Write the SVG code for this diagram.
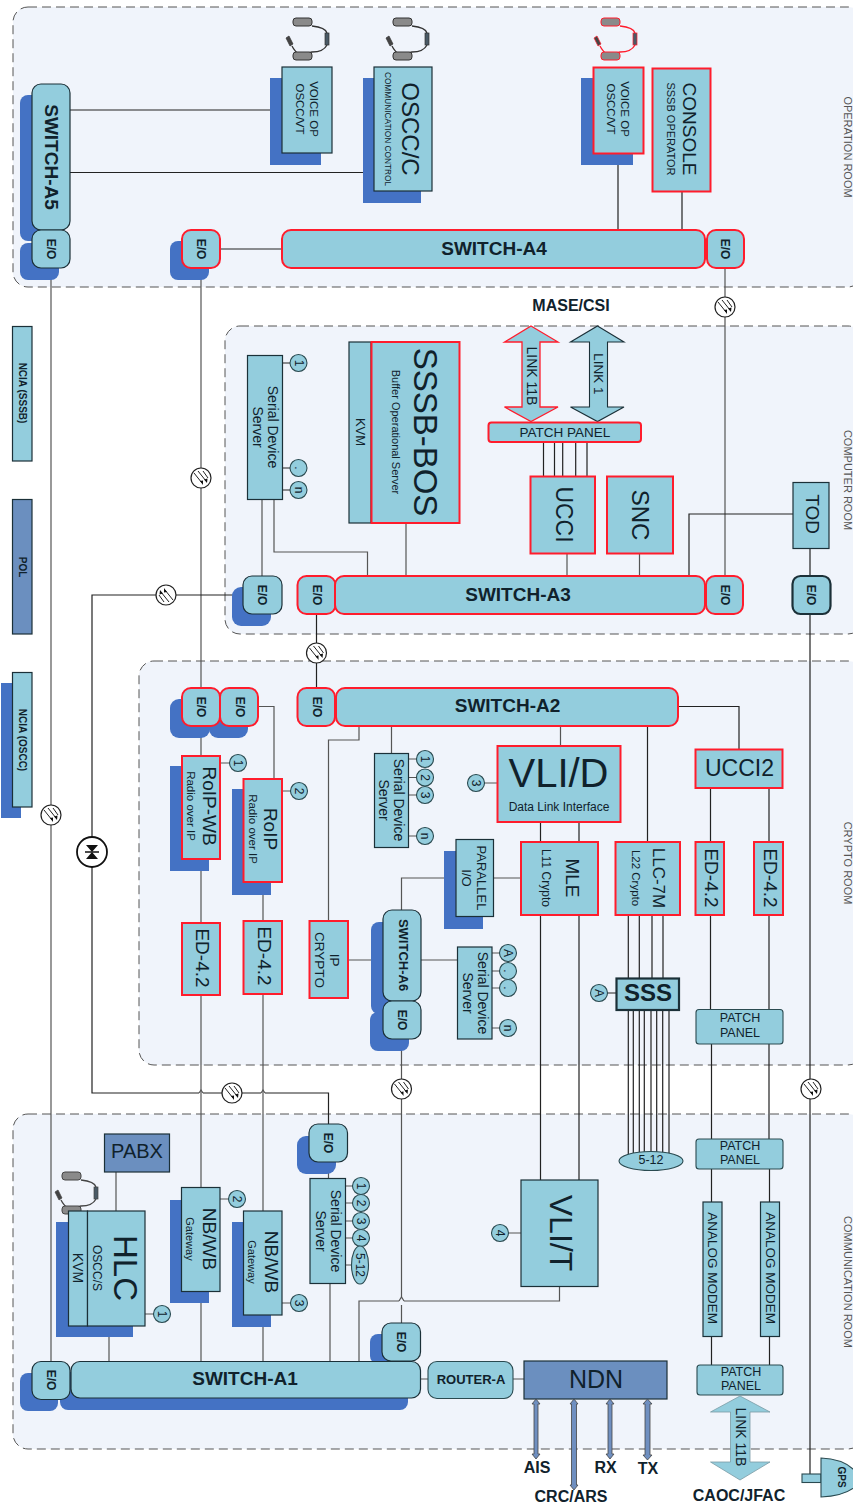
<svg xmlns="http://www.w3.org/2000/svg" xmlns:xlink="http://www.w3.org/1999/xlink" width="853" height="1504" viewBox="0 0 853 1504">
<style>
text{font-family:"Liberation Sans",Arial,sans-serif;fill:#10222c;text-anchor:middle;dominant-baseline:central}
.room{fill:#f0f4fb;stroke:#555;stroke-width:1;stroke-dasharray:9 5}
.roomlabel{font-size:11px;fill:#555}
.n{fill:#93cddd;stroke:#1b3038;stroke-width:1.2}
.r{fill:#93cddd;stroke:#ff1c2c;stroke-width:2}
.d{fill:#6b8fbf;stroke:#1b3038;stroke-width:1.2}
.t{fill:#93cddd;stroke:#1b3038;stroke-width:2.2}
.s{fill:#4472c4}
.c{fill:#93cddd;stroke:#2a4a50;stroke-width:1.1}
.b{font-weight:bold}
.i{font-size:12px}
.sw{font-size:19px;font-weight:bold}
.eo{font-size:12px;font-weight:bold}
.sd{font-size:14px}
.ex{font-size:16px;font-weight:bold}
.l{fill:none;stroke:#222;stroke-width:1.2}
.g{fill:none;stroke:#555;stroke-width:1.2}
.f{fill:#6f8fc0;stroke:#444;stroke-width:.8}
</style>
<defs>
<g id="fiber">
<circle r="10" fill="#fff" stroke="#222" stroke-width="1.2"/>
<path d="M-7-5L1 5M-3-7L5 3M2-7L7 0" fill="none" stroke="#222" stroke-width="1"/>
<path d="M2 7L-1 3L2 2.5ZM6 5L3 1.5L6.500 0.500Z" fill="#111"/>
</g>
<g id="fiberb">
<circle r="10" fill="#fff" stroke="#222" stroke-width="1.2"/>
<path d="M7 5L-1-5M3 7L-5-3M-2 7L-7 0" fill="none" stroke="#222" stroke-width="1"/>
<path d="M-2-7L1-3L-2-2.500ZM-6-5L-3-1.500L-6.500-0.500Z" fill="#111"/>
</g>
<g id="hs">
<path d="M27 8C36 9 41 11 42 15M42 27C40 31 35 34 27 34L15 37Q10 34 7 28" fill="none" stroke="currentColor" stroke-width="1.300"/>
<rect x="8" y="0" width="19" height="8" rx="3" fill="#8a8a8a" stroke="currentColor"/>
<rect x="8" y="34" width="19" height="8" rx="3" fill="#8a8a8a" stroke="currentColor"/>
<rect x="40" y="15" width="4" height="12" fill="#4a5a66" stroke="currentColor" stroke-width=".7"/>
<path d="M1 20L4 18L8 26L5 28Z" fill="#444" stroke="currentColor" stroke-width=".7"/>
</g>
</defs>
<rect width="853" height="1504" fill="#fff"/>

<g id="rooms">
<rect class="room" x="13" y="7" width="850" height="280" rx="15"/>
<rect class="room" x="225" y="326" width="638" height="308" rx="15"/>
<rect class="room" x="139" y="661" width="724" height="404" rx="15"/>
<rect class="room" x="13" y="1114" width="850" height="335" rx="15"/>
<text class="roomlabel" transform="translate(848 147) rotate(90)">OPERATION ROOM</text>
<text class="roomlabel" transform="translate(848 480) rotate(90)">COMPUTER ROOM</text>
<text class="roomlabel" transform="translate(848 863) rotate(90)">CRYPTO ROOM</text>
<text class="roomlabel" transform="translate(848 1282) rotate(90)">COMMUNICATION ROOM</text>
</g>

<g id="connectors">
<path class="l" d="M70 110H282M70 172.500H374M220 249H282M618 153V230M682 191V230"/>
<path class="g" d="M51 268V1362M201 268V688M725 268V576"/>
<path class="l" d="M243 595H92V1093H199M203 1093H261M265 1093H328.500V1124"/>
<path class="g" d="M199 1093q2-3 2-3q2 3 2 3M261 1093q2-3 2-3q2 3 2 3" stroke-width="1"/>
<path class="g" d="M262 499V576M274 499V552H367.500V576M406 523V576M567 553V576M639.500 553V576"/>
<path class="l" d="M793 514H689V576M543.500 442V476M554.500 442V476M562.700 442V476M575.700 442V476M587 442V476M810 548V576M810 614V1474"/>
<path class="l" d="M283 363H290M283 468H290M283 490H290"/>
<path class="l" d="M316.500 614V688"/>
<path class="g" d="M201 726V756M201 859V923M201 995V1188M263 895V921M263 994V1211M258 706.500H274V779M220 763H230M282 791H291"/>
<path class="g" d="M359 726V740H328.500V921M391.500 726V753M408 759H417M408 777.500H417M408 795H417M408 836H417"/>
<path class="g" d="M560.500 726V746M484 783H497M348 960H372M421 960H457M492 953H500M492 971H500M492 988H500M492 1028H500M444 878H401.500V910M493 878H521"/>
<path class="g" d="M401.500 1039V1297M401.500 1305V1323"/>
<path class="l" d="M540.500 822V842M579 822V842M540.500 915V1180M579 915V1180M647.500 726V842M678 706.500H739V749M607 993H616"/>
<path class="l" d="M628.300 915V978M639.300 915V978M652 915V978M663 915V978M628.300 1010V1155M633.300 1010V1153M639.300 1010V1152M644.300 1010V1152M651 1010V1152M656.700 1010V1152M662.700 1010V1153M669 1010V1155"/>
<path class="l" d="M710.500 788V842M769 788V842M710.500 915V1010M769 915V1010M711.500 1044V1139M769 1044V1139M711.500 1169V1202M769.500 1169V1202M711.500 1336V1365M769.500 1336V1365"/>
<path class="g" d="M116 1172V1211M145 1314H154M109 1326V1362M201 1292V1362M220 1199H229M263 1315V1362M282 1303H291M328.500 1162V1178M330 1283V1362M346 1186H353M346 1203H353M346 1221H353M346 1238H353M346 1265H352M359 1362V1301H399M404 1301H559.500V1287M508 1233H521"/>
<path class="g" d="M399 1301q2.500-4 2.500-4q2.500 4 2.500 4" stroke-width="1"/>
<path class="g" d="M420 1379H428M513 1379H524"/>
</g>

<g id="fibers">
<use xlink:href="#fiber" x="725" y="307"/>
<use xlink:href="#fiber" x="201" y="478"/>
<use xlink:href="#fiberb" x="166" y="595"/>
<use xlink:href="#fiber" x="316.500" y="653"/>
<use xlink:href="#fiber" x="51" y="815"/>
<use xlink:href="#fiber" x="232" y="1093"/>
<use xlink:href="#fiber" x="401.500" y="1089"/>
<use xlink:href="#fiber" x="811" y="1089"/>
</g>
<g id="diode">
<circle cx="92" cy="852" r="15" fill="#fff" stroke="#111" stroke-width="1.800"/>
<path d="M86 845H98L92 852L98 859H86L92 852Z" fill="#111"/>
<path d="M85 852H99" stroke="#111" stroke-width="1.500"/>
</g>

<g id="switch-a5"><rect class="s" x="20" y="95" width="40" height="146" rx="8"/><rect class="n" x="32" y="84" width="38" height="146" rx="9"/><text class="sw" transform="translate(51 157) rotate(90)">SWITCH-A5</text></g>
<g id="eo-a5"><rect class="s" x="20" y="243" width="39" height="37" rx="8"/><rect class="n" x="32" y="230" width="38" height="38" rx="9"/><text class="eo" transform="translate(51 249) rotate(90)">E/O</text></g>
<g id="voice-op-1"><use xlink:href="#hs" x="285" y="18" color="#333"/><rect class="s" x="270" y="78" width="51" height="87"/><rect class="n" x="282" y="67" width="50" height="86"/><text font-size="11.500" transform="translate(307 109) rotate(90)"><tspan x="0" dy="-7">VOICE OP</tspan><tspan x="0" dy="14">OSCC/VT</tspan></text></g>
<g id="oscc-c"><use xlink:href="#hs" x="385" y="18" color="#333"/><rect class="s" x="363" y="78" width="58" height="125"/><rect class="n" x="374" y="67" width="58" height="124"/><text font-size="24" transform="translate(410 129) rotate(90)">OSCC/C</text><text font-size="8.300" transform="translate(388 129) rotate(90)">COMMUNICATION CONTROL</text></g>
<g id="eo-a4l"><rect class="s" x="170" y="241" width="39" height="39" rx="8"/><rect class="r" x="182" y="230" width="38" height="38" rx="9"/><text class="eo" transform="translate(201 249) rotate(90)">E/O</text></g>
<g id="switch-a4"><rect class="r" x="282" y="230" width="423" height="38" rx="9"/><text class="sw" x="494" y="248">SWITCH-A4</text></g>
<g id="eo-a4r"><rect class="r" x="707" y="230" width="37" height="38" rx="9"/><text class="eo" transform="translate(725 249) rotate(90)">E/O</text></g>
<g id="voice-op-2"><use xlink:href="#hs" x="593" y="18" color="#ff1c2c"/><rect class="s" x="581" y="78" width="52" height="87"/><rect class="r" x="593.500" y="67.500" width="50" height="86"/><text font-size="11.500" transform="translate(618 109) rotate(90)"><tspan x="0" dy="-7">VOICE OP</tspan><tspan x="0" dy="14">OSCC/VT</tspan></text></g>
<g id="console"><rect class="r" x="652.500" y="68.500" width="58" height="123"/><text font-size="19" transform="translate(689.500 129) rotate(90)">CONSOLE</text><text font-size="11" transform="translate(671 129) rotate(90)">SSSB OPERATOR</text></g>
<text class="ex" x="571" y="305">MASE/CSI</text>

<g id="ncia-sssb"><rect class="n" x="12.500" y="326.500" width="19.500" height="134.500"/><text class="b" font-size="10" transform="translate(22 393) rotate(90)">NCIA (SSSB)</text></g>
<g id="pol"><rect class="d" x="12.500" y="499.500" width="19.500" height="134.500"/><text class="b" font-size="10" transform="translate(22 567) rotate(90)">POL</text></g>
<g id="ncia-oscc"><rect class="s" x="1" y="683" width="20" height="135"/><rect class="n" x="12.500" y="672.500" width="19.500" height="134.500"/><text class="b" font-size="10" transform="translate(22 740) rotate(90)">NCIA (OSCC)</text></g>

<g id="serial-a3"><rect class="n" x="247.500" y="355.500" width="35" height="144"/><text class="sd" transform="translate(265 427) rotate(90)"><tspan x="0" dy="-8">Serial Device</tspan><tspan x="0" dy="15">Server</tspan></text><circle class="c" cx="298.500" cy="363" r="8.500"/><text class="i" transform="translate(298.500 363) rotate(90)">1</text><circle class="c" cx="298.500" cy="468" r="8.500"/><text class="i" transform="translate(298.500 468) rotate(90)">.</text><circle class="c" cx="298.500" cy="490" r="8.500"/><text class="i" transform="translate(298.500 490) rotate(90)">n</text></g>
<g id="eo-a3k"><rect class="s" x="232" y="587" width="39" height="39" rx="9"/><rect class="n" x="243" y="576" width="39" height="38" rx="9"/><text class="eo" transform="translate(262 595) rotate(90)">E/O</text></g>
<g id="kvm-a3"><rect class="n" x="349" y="342" width="22" height="181"/><text font-size="13" transform="translate(360 432) rotate(90)">KVM</text></g>
<g id="sssb-bos"><rect class="r" x="371.500" y="342" width="88" height="181"/><text font-size="33" transform="translate(425 432) rotate(90)">SSSB-BOS</text><text font-size="11" transform="translate(396 432) rotate(90)">Buffer Operational Server</text></g>
<g id="link11b-top"><path d="M531 326L558 342H540V407H558L531 421.500L504.500 407H522V342H504.500Z" fill="#93cddd" stroke="#ff1c2c" stroke-width="1.300"/><text font-size="14" transform="translate(532 376) rotate(90)">LINK 11B</text></g>
<g id="link1"><path d="M597.500 326L624 342H607.500V407H624L597.500 421.500L570.500 407H589.500V342H570.500Z" fill="#93cddd" stroke="#1b3038" stroke-width="1.100"/><text font-size="13.500" transform="translate(598 374) rotate(90)">LINK 1</text></g>
<g id="patch-top"><rect class="r" x="488.500" y="422.500" width="152.500" height="19.500" rx="3"/><text font-size="13.500" x="565" y="432">PATCH PANEL</text></g>
<g id="ucci"><rect class="r" x="530.500" y="476.500" width="64.500" height="77"/><text font-size="23" transform="translate(564 514.500) rotate(90)">UCCI</text></g>
<g id="snc"><rect class="r" x="607" y="476.500" width="66" height="77"/><text font-size="24" transform="translate(640 515) rotate(90)">SNC</text></g>
<g id="tod"><rect class="n" x="793" y="482.500" width="36" height="66"/><text font-size="19" transform="translate(812 514) rotate(90)">TOD</text></g>
<g id="eo-a3"><rect class="r" x="297.500" y="576" width="38" height="38" rx="9"/><text class="eo" transform="translate(317 595) rotate(90)">E/O</text></g>
<g id="switch-a3"><rect class="r" x="335" y="576" width="370" height="38" rx="9"/><text class="sw" x="518" y="594">SWITCH-A3</text></g>
<g id="eo-a3r"><rect class="r" x="706" y="576" width="37" height="38" rx="9"/><text class="eo" transform="translate(725 595) rotate(90)">E/O</text></g>
<g id="eo-tod"><rect class="t" x="792.500" y="576" width="38" height="38" rx="8"/><text class="eo" transform="translate(811 595) rotate(90)">E/O</text></g>

<g id="eo-a2a"><rect class="s" x="170" y="699" width="40" height="39" rx="9"/><rect class="s" x="209" y="699" width="39" height="39" rx="9"/><rect class="r" x="182" y="688" width="38" height="38" rx="9"/><text class="eo" transform="translate(201 707) rotate(90)">E/O</text></g>
<g id="eo-a2b"><rect class="r" x="220" y="688" width="38" height="38" rx="9"/><text class="eo" transform="translate(240 707) rotate(90)">E/O</text></g>
<g id="eo-a2"><rect class="r" x="297.500" y="688" width="37.500" height="38" rx="9"/><text class="eo" transform="translate(317 707) rotate(90)">E/O</text></g>
<g id="switch-a2"><rect class="r" x="336" y="688" width="342" height="38" rx="9"/><text class="sw" x="507.500" y="705">SWITCH-A2</text></g>
<g id="roip-wb"><rect class="s" x="170" y="766" width="39" height="105"/><rect class="r" x="182" y="756" width="38" height="103"/><text font-size="19" transform="translate(209 806) rotate(90)">RoIP-WB</text><text font-size="11.500" transform="translate(191 806) rotate(90)">Radio over IP</text><circle class="c" cx="238" cy="763" r="8.500"/><text class="i" transform="translate(238 763) rotate(90)">1</text></g>
<g id="roip"><rect class="s" x="232" y="789" width="39" height="106"/><rect class="r" x="243.500" y="779" width="38.500" height="103"/><text font-size="19" transform="translate(270 829) rotate(90)">RoIP</text><text font-size="11.500" transform="translate(252.500 829) rotate(90)">Radio over IP</text><circle class="c" cx="299" cy="791" r="8.500"/><text class="i" transform="translate(299 791) rotate(90)">2</text></g>
<g id="ed42-a"><rect class="r" x="182" y="923" width="38" height="72"/><text font-size="19" transform="translate(202 958) rotate(90)">ED-4.2</text></g>
<g id="ed42-b"><rect class="r" x="243.500" y="921" width="38.500" height="73"/><text font-size="19" transform="translate(264 956) rotate(90)">ED-4.2</text></g>
<g id="ip-crypto"><rect class="r" x="309.500" y="921" width="38.500" height="77"/><text font-size="13.500" transform="translate(328 960) rotate(90)"><tspan x="0" dy="-7">IP</tspan><tspan x="0" dy="15">CRYPTO</tspan></text></g>
<g id="serial-a2"><rect class="n" x="374.500" y="753.500" width="34" height="94"/><text class="sd" transform="translate(391 800) rotate(90)"><tspan x="0" dy="-8">Serial Device</tspan><tspan x="0" dy="15">Server</tspan></text><circle class="c" cx="425" cy="759" r="8.500"/><text class="i" transform="translate(425 759) rotate(90)">1</text><circle class="c" cx="425" cy="777.500" r="8.500"/><text class="i" transform="translate(425 777.500) rotate(90)">2</text><circle class="c" cx="425" cy="795" r="8.500"/><text class="i" transform="translate(425 795) rotate(90)">3</text><circle class="c" cx="425" cy="836" r="8.500"/><text class="i" transform="translate(425 836) rotate(90)">n</text></g>
<g id="vli-d"><rect class="r" x="497.500" y="746" width="123" height="76"/><text font-size="40" x="558.500" y="773">VLI/D</text><text font-size="12" x="559" y="807">Data Link Interface</text><circle class="c" cx="476" cy="783" r="8.500"/><text class="i" transform="translate(476 783) rotate(90)">3</text></g>
<g id="parallel-io"><rect class="s" x="444" y="851" width="39" height="78"/><rect class="n" x="456" y="839.500" width="37.500" height="77"/><text font-size="13" transform="translate(475 878) rotate(90)"><tspan x="0" dy="-7">PARALLEL</tspan><tspan x="0" dy="15">I/O</tspan></text></g>
<g id="switch-a6"><rect class="s" x="371" y="922" width="30" height="92" rx="8"/><rect class="n" x="383" y="910" width="38" height="91" rx="9"/><text class="b" font-size="13" transform="translate(403 955) rotate(90)">SWITCH-A6</text></g>
<g id="eo-a6"><rect class="s" x="370" y="1012" width="39" height="39" rx="8"/><rect class="n" x="383" y="1001" width="38" height="38" rx="9"/><text class="eo" transform="translate(402 1020) rotate(90)">E/O</text></g>
<g id="serial-a6"><rect class="n" x="457.500" y="947" width="34.500" height="92"/><text class="sd" transform="translate(475 993) rotate(90)"><tspan x="0" dy="-8">Serial Device</tspan><tspan x="0" dy="15">Server</tspan></text><circle class="c" cx="508" cy="953" r="8.500"/><text class="i" transform="translate(508 953) rotate(90)">A</text><circle class="c" cx="508" cy="971" r="8.500"/><text class="i" transform="translate(508 971) rotate(90)">.</text><circle class="c" cx="508" cy="988" r="8.500"/><text class="i" transform="translate(508 988) rotate(90)">.</text><circle class="c" cx="508" cy="1028" r="8.500"/><text class="i" transform="translate(508 1028) rotate(90)">n</text></g>
<g id="mle"><rect class="r" x="521" y="842" width="77" height="73"/><text font-size="19" transform="translate(572 878) rotate(90)">MLE</text><text font-size="12" transform="translate(546 878) rotate(90)">L11 Crypto</text></g>
<g id="llc-7m"><rect class="r" x="615.500" y="842" width="64.500" height="73"/><text font-size="17" transform="translate(658 878) rotate(90)">LLC-7M</text><text font-size="11.500" transform="translate(636 878) rotate(90)">L22 Crypto</text></g>
<g id="ucci2"><rect class="r" x="695.500" y="749.500" width="87" height="38.500"/><text font-size="23" x="739.500" y="767.500">UCCI2</text></g>
<g id="ed42-c"><rect class="r" x="695.500" y="842" width="28.500" height="73"/><text font-size="19" transform="translate(711 878) rotate(90)">ED-4.2</text></g>
<g id="ed42-d"><rect class="r" x="754" y="842" width="29" height="73"/><text font-size="19" transform="translate(770 878) rotate(90)">ED-4.2</text></g>
<g id="sss"><rect class="t" x="616.500" y="978.500" width="62.500" height="31.500"/><text class="b" font-size="24" x="648" y="992">SSS</text><circle class="c" cx="599" cy="993" r="8.500"/><text class="i" transform="translate(599 993) rotate(90)">A</text></g>
<g id="patch-1"><rect class="c" x="696" y="1009.500" width="87" height="34.500" rx="3"/><text font-size="12.500" x="740" y="1018">PATCH</text><text font-size="12.500" x="740" y="1033">PANEL</text></g>

<g id="ellipse-5-12"><ellipse class="c" cx="651" cy="1161" rx="32" ry="9.500"/><text font-size="12.500" x="651" y="1160">5-12</text></g>
<g id="patch-2"><rect class="c" x="696" y="1139" width="87" height="30" rx="3"/><text font-size="12.500" x="740" y="1146">PATCH</text><text font-size="12.500" x="740" y="1160">PANEL</text></g>
<g id="modem-a"><rect class="n" x="703" y="1202" width="19" height="134.500"/><text font-size="13.500" transform="translate(712.500 1268) rotate(90)">ANALOG MODEM</text></g>
<g id="modem-b"><rect class="n" x="760.500" y="1202" width="19" height="134.500"/><text font-size="13.500" transform="translate(770 1268) rotate(90)">ANALOG MODEM</text></g>
<g id="patch-3"><rect class="c" x="697" y="1365" width="86" height="30" rx="3"/><text font-size="12.500" x="741" y="1372">PATCH</text><text font-size="12.500" x="741" y="1386">PANEL</text></g>
<g id="link11b-bottom"><path d="M740 1396L770 1412H750V1462H770L740 1480L710.500 1462H730.500V1412H710.500Z" fill="#93cddd" stroke="#7a9aa5" stroke-width=".8"/><text font-size="14" transform="translate(741 1437) rotate(90)">LINK 11B</text></g>
<text class="ex" font-size="16.500" x="739" y="1495">CAOC/JFAC</text>
<g id="gps"><rect class="c" x="802" y="1474" width="19" height="8.500"/><path class="c" d="M821 1458Q845 1459 856 1472V1486Q845 1496 821 1497Z"/><text class="b" font-size="10" transform="translate(841 1477) rotate(90)">GPS</text></g>

<g id="pabx"><rect class="d" x="104.500" y="1134" width="65" height="38"/><text font-size="20" x="137" y="1151">PABX</text></g>
<g id="hlc"><rect class="s" x="56" y="1222" width="77" height="115"/><use xlink:href="#hs" x="54" y="1172" color="#444"/><rect class="n" x="68.500" y="1211" width="19" height="115"/><rect class="n" x="87.500" y="1211" width="57.500" height="115"/><text font-size="14" transform="translate(78 1268) rotate(90)">KVM</text><text font-size="33" transform="translate(125 1268) rotate(90)">HLC</text><text font-size="12" transform="translate(97 1268) rotate(90)">OSCC/S</text><circle class="c" cx="162" cy="1314" r="8.500"/><text class="i" transform="translate(162 1314) rotate(90)">1</text></g>
<g id="nbwb-1"><rect class="s" x="170" y="1200" width="39" height="103"/><rect class="n" x="181.500" y="1187.500" width="38.500" height="104"/><text font-size="19" transform="translate(209 1239) rotate(90)">NB/WB</text><text font-size="11" transform="translate(190 1239) rotate(90)">Gateway</text><circle class="c" cx="237" cy="1199" r="8.500"/><text class="i" transform="translate(237 1199) rotate(90)">2</text></g>
<g id="nbwb-2"><rect class="s" x="232" y="1222" width="39" height="105"/><rect class="n" x="243.500" y="1211" width="38.500" height="104"/><text font-size="19" transform="translate(271 1262) rotate(90)">NB/WB</text><text font-size="11" transform="translate(252 1262) rotate(90)">Gateway</text><circle class="c" cx="299" cy="1303" r="8.500"/><text class="i" transform="translate(299 1303) rotate(90)">3</text></g>
<g id="eo-a1t"><rect class="s" x="297" y="1136" width="39" height="38" rx="9"/><rect class="n" x="309" y="1124" width="38.500" height="38" rx="9"/><text class="eo" transform="translate(328 1143) rotate(90)">E/O</text></g>
<g id="serial-a1"><rect class="n" x="310" y="1178.500" width="35.500" height="105"/><text class="sd" transform="translate(328 1231) rotate(90)"><tspan x="0" dy="-8">Serial Device</tspan><tspan x="0" dy="15">Server</tspan></text><circle class="c" cx="361" cy="1186" r="8.500"/><text class="i" transform="translate(361 1186) rotate(90)">1</text><circle class="c" cx="361" cy="1203" r="8.500"/><text class="i" transform="translate(361 1203) rotate(90)">2</text><circle class="c" cx="361" cy="1221" r="8.500"/><text class="i" transform="translate(361 1221) rotate(90)">3</text><circle class="c" cx="361" cy="1238" r="8.500"/><text class="i" transform="translate(361 1238) rotate(90)">4</text><ellipse class="c" cx="360" cy="1265" rx="8.500" ry="19"/><text class="i" transform="translate(360 1265) rotate(90)">5-12</text></g>
<g id="vli-t"><rect class="n" x="521" y="1180" width="77" height="106.500"/><text font-size="32" transform="translate(561 1233) rotate(90)">VLI/T</text><circle class="c" cx="500" cy="1233" r="8.500"/><text class="i" transform="translate(500 1233) rotate(90)">4</text></g>
<g id="eo-a1r"><rect class="s" x="370" y="1334" width="39" height="30" rx="8"/><rect class="n" x="382" y="1323" width="38.500" height="38" rx="9"/><text class="eo" transform="translate(401 1342) rotate(90)">E/O</text></g>
<g id="switch-a1"><rect class="s" x="60" y="1372" width="348" height="38" rx="8"/><rect class="n" x="71" y="1361.500" width="349.500" height="36.500" rx="9"/><text class="sw" x="245" y="1378">SWITCH-A1</text></g>
<g id="eo-a1"><rect class="s" x="20" y="1373" width="38" height="38" rx="8"/><rect class="n" x="32" y="1361.500" width="38" height="38" rx="9"/><text class="eo" transform="translate(51 1380) rotate(90)">E/O</text></g>
<g id="router-a"><rect class="c" x="428" y="1361.500" width="85" height="37" rx="9"/><text class="b" font-size="13" x="471" y="1379">ROUTER-A</text></g>
<g id="ndn"><rect class="d" x="524" y="1361" width="143" height="38"/><text font-size="25" x="596" y="1379">NDN</text></g>
<g id="io-arrows">
<path class="f" d="M536 1399L540 1404H538V1454H540L536 1459L532 1454H534V1404H532Z"/>
<path class="f" d="M574 1399L578 1404H576.500V1485H578L574 1490L570 1485H571.500V1404H570Z"/>
<path class="f" d="M610 1399L614 1404H612V1454H614L610 1459L606 1454H608V1404H606Z"/>
<path class="f" d="M647.500 1399L652 1404H650V1455H652L647.500 1460L643 1455H645V1404H643Z"/>
</g>
<text class="ex" x="537" y="1467">AIS</text>
<text class="ex" x="605.500" y="1467">RX</text>
<text class="ex" x="648" y="1468">TX</text>
<text class="ex" x="571" y="1496">CRC/ARS</text>
</svg>
